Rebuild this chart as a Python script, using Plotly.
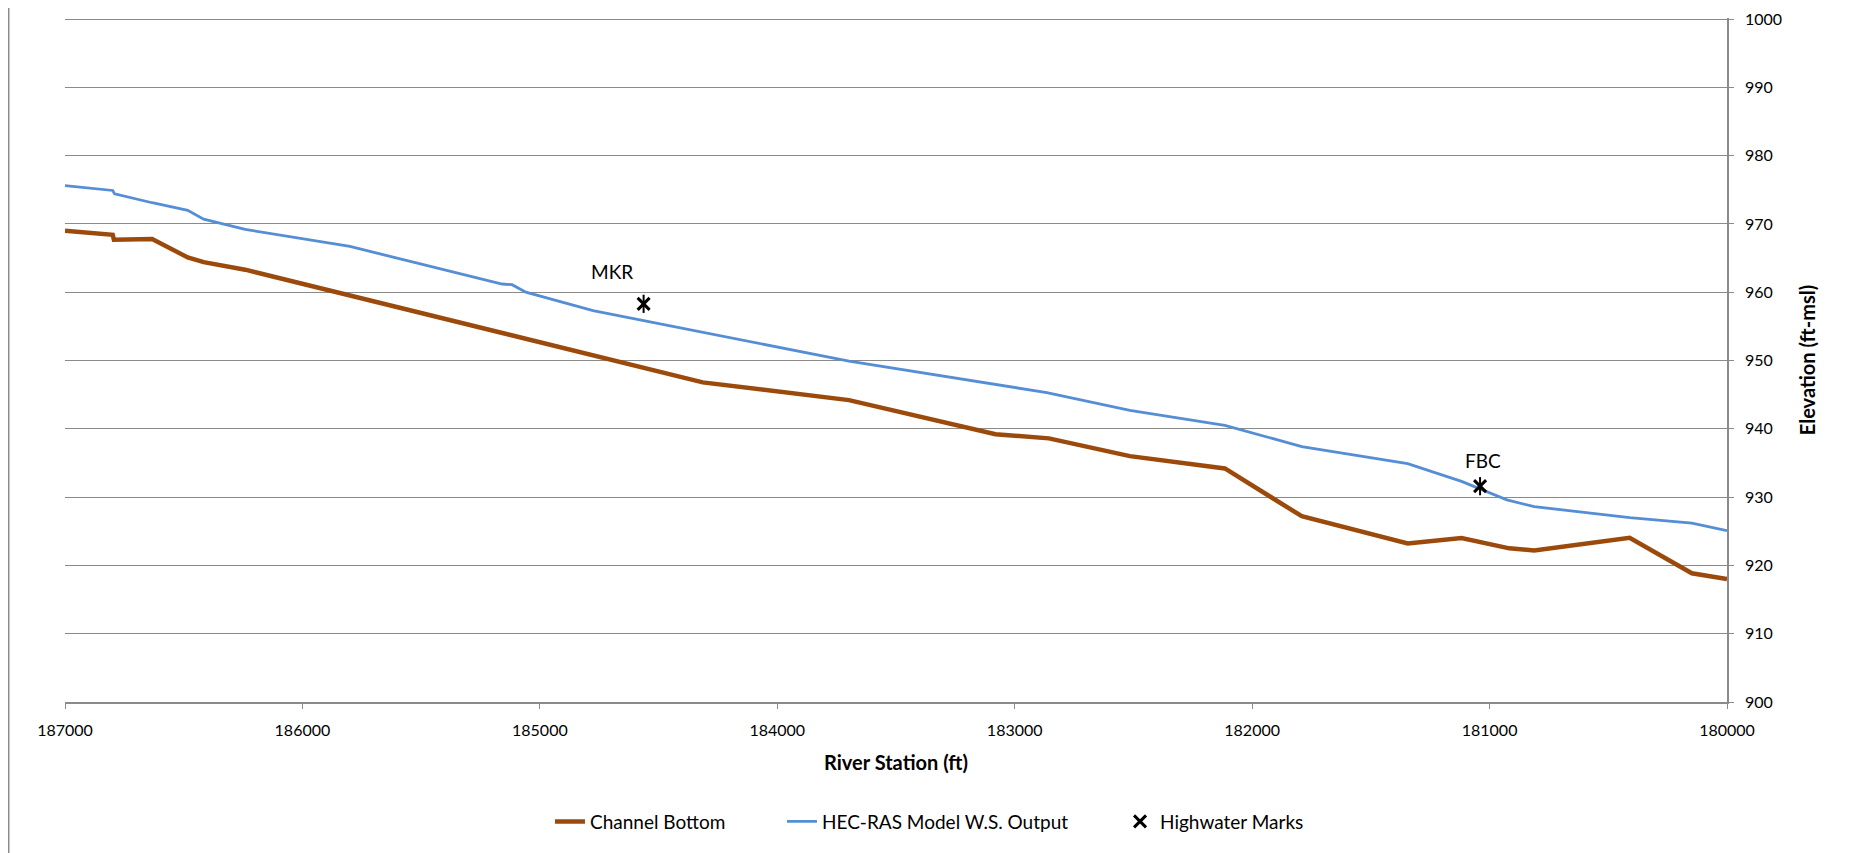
import plotly.graph_objects as go

# ---------------- data ----------------
bottom_station = [187000, 186799, 186794, 186633, 186483, 186416, 186241, 184314,
                  183698, 183081, 182856, 182515, 182115, 181791, 181345, 181118,
                  180917, 180812, 180410, 180148, 180000]
bottom_elev = [969.0, 968.4, 967.7, 967.8, 965.1, 964.4, 963.3, 946.8,
               944.2, 939.2, 938.6, 936.0, 934.2, 927.2, 923.2, 924.0,
               922.5, 922.2, 924.05, 918.85, 918.0]

ws_station = [187000, 186799, 186791, 186633, 186483, 186416, 186241, 185800,
              185159, 185117, 185059, 184776, 183698, 182865, 182515, 182115,
              181791, 181345, 181118, 180927, 180812, 180410, 180148, 180000]
ws_elev = [975.6, 974.9, 974.4, 973.1, 972.0, 970.7, 969.2, 966.7,
           961.2, 961.1, 960.0, 957.3, 949.9, 945.3, 942.7, 940.5,
           937.4, 934.9, 932.3, 929.6, 928.6, 927.0, 926.2, 925.1]

hwm_station = [184563, 181040]
hwm_elev = [958.3, 931.6]
hwm_label = ["MKR", "FBC"]

x_ticks = [187000, 186000, 185000, 184000, 183000, 182000, 181000, 180000]
y_ticks = [900, 910, 920, 930, 940, 950, 960, 970, 980, 990, 1000]

# ---------------- style ----------------
FONT = "Lato"
GRID = "#8a8a8a"
BROWN = "#9C4A0C"
BLUE = "#558ED5"

fig = go.Figure()
fig.add_trace(go.Scatter(x=bottom_station, y=bottom_elev, mode="lines",
                         name="Channel Bottom",
                         line=dict(color=BROWN, width=4.5), legend="legend"))
fig.add_trace(go.Scatter(x=ws_station, y=ws_elev, mode="lines",
                         name="HEC-RAS Model W.S. Output",
                         line=dict(color=BLUE, width=2.8), legend="legend2"))
fig.add_trace(go.Scatter(x=hwm_station, y=hwm_elev, mode="markers",
                         name="Highwater Marks",
                         marker=dict(symbol="x-thin-open", size=12, color="black",
                                     line=dict(color="black", width=3)),
                         legend="legend3"))
fig.add_trace(go.Scatter(x=hwm_station, y=hwm_elev, mode="markers",
                         showlegend=False, hoverinfo="skip",
                         marker=dict(symbol="line-ns-open", size=13, color="black",
                                     line=dict(color="black", width=2))))

shifts = [(-32, 32), (3, 26)]
for xs, ys, lab, (dx, dy) in zip(hwm_station, hwm_elev, hwm_label, shifts):
    fig.add_annotation(x=xs, y=ys, text=lab, showarrow=False,
                       xshift=dx, yshift=dy,
                       font=dict(family=FONT, size=19, color="#000000"))

# chart border lines (left / right)
for px in (-0.0340, 1.0720):
    fig.add_shape(type="line", xref="paper", yref="paper",
                  x0=px, x1=px, y0=-0.25, y1=1.05,
                  line=dict(color="#8c8c8c", width=2))

legend_common = dict(orientation="h", yanchor="middle", y=-0.1748,
                     xanchor="left", bgcolor="rgba(0,0,0,0)",
                     font=dict(family=FONT, size=19, color="#000000"))

# page body has an 8px margin; size the figure so the plot lands where the reference has it
fig.update_layout(
    width=1843, height=845,
    margin=dict(l=57, r=124, t=10, b=151, autoexpand=False),
    paper_bgcolor="white", plot_bgcolor="white",
    font=dict(family=FONT, size=16, color="#000000"),
    legend=dict(x=0.2918, **legend_common),
    legend2=dict(x=0.4314, **legend_common),
    legend3=dict(x=0.6348, **legend_common),
    xaxis=dict(range=[187000, 180000], tickvals=x_ticks, automargin=False,
               tickformat="d", showgrid=False, zeroline=False,
               showline=True, linecolor=GRID, linewidth=1.5,
               ticks="outside", ticklen=5, tickcolor=GRID,
               ticklabelstandoff=8, ticklabeloverflow="allow",
               tickfont=dict(family=FONT, size=16),
               title=dict(text="<b>River Station (ft)</b>", standoff=18,
                          font=dict(family=FONT, size=20))),
    yaxis=dict(range=[900, 1000.15], tickvals=y_ticks, side="right", automargin=False,
               showgrid=True, gridcolor=GRID, gridwidth=1.2,
               zeroline=False, showline=True, linecolor=GRID, linewidth=1.5,
               ticks="outside", ticklen=5, tickcolor=GRID,
               ticklabelstandoff=8, ticklabeloverflow="allow",
               tickfont=dict(family=FONT, size=16),
               title=dict(text="<b>Elevation (ft-msl)</b>", standoff=20,
                          font=dict(family=FONT, size=20))),
)

fig.write_html("out.html")
